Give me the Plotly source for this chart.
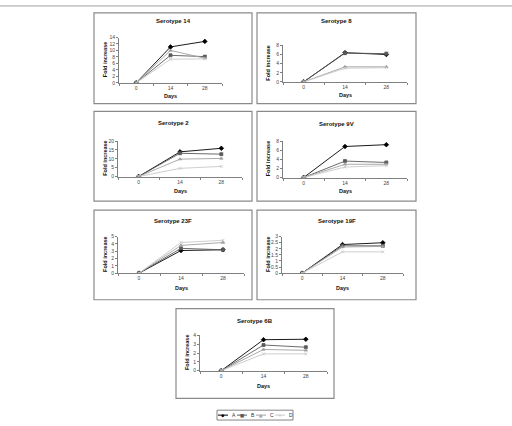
import plotly.graph_objects as go

# ---------------- data ----------------
days = ["0", "14", "28"]
groups = ["A", "B", "C", "D"]
titles = ["Serotype 14", "Serotype 8", "Serotype 2", "Serotype 9V",
          "Serotype 23F", "Serotype 19F", "Serotype 6B"]

s14_A = [0, 11.1, 12.8]
s14_B = [0, 8.5, 8.1]
s14_C = [0, 10.0, 7.6]
s14_D = [0, 7.3, 7.4]

s8_A = [0, 6.4, 6.0]
s8_B = [0, 6.3, 6.2]
s8_C = [0, 3.3, 3.3]
s8_D = [0, 3.0, 3.1]

s2_A = [0, 13.9, 15.9]
s2_B = [0, 13.1, 12.6]
s2_C = [0, 9.8, 10.2]
s2_D = [0, 4.6, 5.7]

s9v_A = [0, 6.8, 7.2]
s9v_B = [0, 3.6, 3.3]
s9v_C = [0, 2.9, 2.9]
s9v_D = [0, 2.3, 2.6]

s23f_A = [0, 3.1, 3.2]
s23f_B = [0, 3.4, 3.2]
s23f_C = [0, 3.8, 4.2]
s23f_D = [0, 4.2, 4.5]

s19f_A = [0, 2.35, 2.5]
s19f_B = [0, 2.25, 2.25]
s19f_C = [0, 2.15, 2.2]
s19f_D = [0, 1.75, 1.75]

s6b_A = [0, 3.5, 3.55]
s6b_B = [0, 2.9, 2.65]
s6b_C = [0, 2.4, 2.3]
s6b_D = [0, 1.9, 1.9]

series = [
    [s14_A, s14_B, s14_C, s14_D],
    [s8_A, s8_B, s8_C, s8_D],
    [s2_A, s2_B, s2_C, s2_D],
    [s9v_A, s9v_B, s9v_C, s9v_D],
    [s23f_A, s23f_B, s23f_C, s23f_D],
    [s19f_A, s19f_B, s19f_C, s19f_D],
    [s6b_A, s6b_B, s6b_C, s6b_D],
]
y_max = [14, 8, 20, 8, 5, 3, 4]
y_step = [2, 2, 5, 2, 1, 0.5, 1]

# ---------------- layout geometry (pixels) ----------------
W, H = 512, 426
def px(x):
    return x / W
def py(y):
    return 1 - y / H

# plot areas: x0, x1, ytop, ybottom
areas = [
    (119, 222, 35, 81),
    (283, 407, 43, 80),
    (118, 242, 140, 176),
    (283, 407, 140, 177),
    (118, 244, 237, 274),
    (282, 403, 237, 274),
    (200, 327, 337, 373),
]
# boxes: x0, x1, y0, y1
boxes = [
    (94, 252, 10, 102),
    (257, 416, 10, 102),
    (94, 252, 110, 201),
    (257, 416, 110, 201),
    (94, 252, 210, 301),
    (257, 416, 210, 301),
    (176, 334, 310, 401),
]
title_y = [18, 18, 122, 123, 221, 221, 323]
days_y = [94, 93, 191, 191, 289, 289, 388]
ytitle_x = [105, 268, 105, 268, 105, 268, 187]

colors = ["#000000", "#5a5a5a", "#a0a0a0", "#c8c8c8"]
symbols = ["diamond", "square", "triangle-up", "x-thin-open"]
msizes = [3.5, 3, 3, 3]

FONT = "Liberation Sans, Arial, sans-serif"
AXC = "#808080"

fig = go.Figure()
layout = dict(
    width=W, height=H, margin=dict(l=0, r=0, t=0, b=0),
    paper_bgcolor="white", plot_bgcolor="white", showlegend=False,
    font=dict(family=FONT, color="#222"),
)
shapes = []
annotations = []

for i in range(7):
    n = "" if i == 0 else str(i + 1)
    x0, x1, yt, yb = areas[i]
    layout["xaxis" + n] = dict(
        domain=[px(x0), px(x1)], anchor="y" + n, type="category",
        range=[-0.5, 2.5], tickson="boundaries", ticks="outside", ticklen=2,
        tickcolor=AXC, showline=True, linecolor=AXC, linewidth=1,
        showgrid=False, zeroline=False, tickfont=dict(size=5, color="#444"),
        fixedrange=True,
    )
    layout["yaxis" + n] = dict(
        domain=[py(yb), py(yt)], anchor="x" + n, range=[0, y_max[i]],
        dtick=y_step[i], tick0=0, ticks="outside", ticklen=2, tickcolor=AXC,
        showline=True, linecolor=AXC, linewidth=1, showgrid=False,
        zeroline=False, tickfont=dict(size=5, color="#444"), fixedrange=True,
    )
    for g in range(4):
        fig.add_trace(go.Scatter(
            x=days, y=series[i][g], name=groups[g], mode="lines+markers",
            xaxis="x" + n, yaxis="y" + n,
            line=dict(color=colors[g], width=0.9),
            marker=dict(symbol=symbols[g], size=msizes[g], color=colors[g],
                        line=dict(color=colors[g], width=0.8)),
        ))
    bx0, bx1, by0, by1 = boxes[i]
    shapes.append(dict(type="rect", xref="paper", yref="paper",
                       x0=px(bx0), x1=px(bx1), y0=py(by1), y1=py(by0),
                       line=dict(color="#8a8a8a", width=1.2)))
    cx = (bx0 + bx1) / 2
    annotations.append(dict(text="<b>%s</b>" % titles[i], x=px(cx), y=py(title_y[i]),
                            xref="paper", yref="paper", showarrow=False,
                            xanchor="center", yanchor="middle",
                            font=dict(size=6, family=FONT, color="#111")))
    annotations.append(dict(text="<b>Days</b>", x=px((x0 + x1) / 2), y=py(days_y[i]),
                            xref="paper", yref="paper", showarrow=False,
                            xanchor="center", yanchor="middle",
                            font=dict(size=5.5, family=FONT, color="#111")))
    annotations.append(dict(text="<b>Fold increase</b>", x=px(ytitle_x[i]),
                            y=py((yt + yb) / 2), xref="paper", yref="paper",
                            showarrow=False, textangle=-90, xanchor="center",
                            yanchor="middle",
                            font=dict(size=5.5, family=FONT, color="#111")))

# top rule
shapes.append(dict(type="line", xref="paper", yref="paper", x0=0, x1=1,
                   y0=py(3), y1=py(3), line=dict(color="#a0a0a0", width=1)))

# legend (drawn manually to match the compact reference legend)
shapes.append(dict(type="rect", xref="paper", yref="paper",
                   x0=px(217), x1=px(293), y0=py(423), y1=py(413),
                   line=dict(color="#666", width=0.8)))
glyphs = ["\u25C6", "\u25A0", "\u25B2", "\u00D7"]
lcx = [223, 242, 261, 280]
for g in range(4):
    c = lcx[g]
    shapes.append(dict(type="line", xref="paper", yref="paper",
                       x0=px(c - 5), x1=px(c + 5), y0=py(418), y1=py(418),
                       line=dict(color=colors[g], width=1)))
    annotations.append(dict(text=glyphs[g], x=px(c), y=py(418), xref="paper",
                            yref="paper", showarrow=False, xanchor="center",
                            yanchor="middle",
                            font=dict(size=4.5, family="DejaVu Sans", color=colors[g])))
    annotations.append(dict(text=groups[g], x=px(c + 7), y=py(418), xref="paper",
                            yref="paper", showarrow=False, xanchor="left",
                            yanchor="middle",
                            font=dict(size=5, family=FONT, color="#333")))

layout["shapes"] = shapes
layout["annotations"] = annotations
fig.update_layout(**layout)
fig.write_html("out.html")
